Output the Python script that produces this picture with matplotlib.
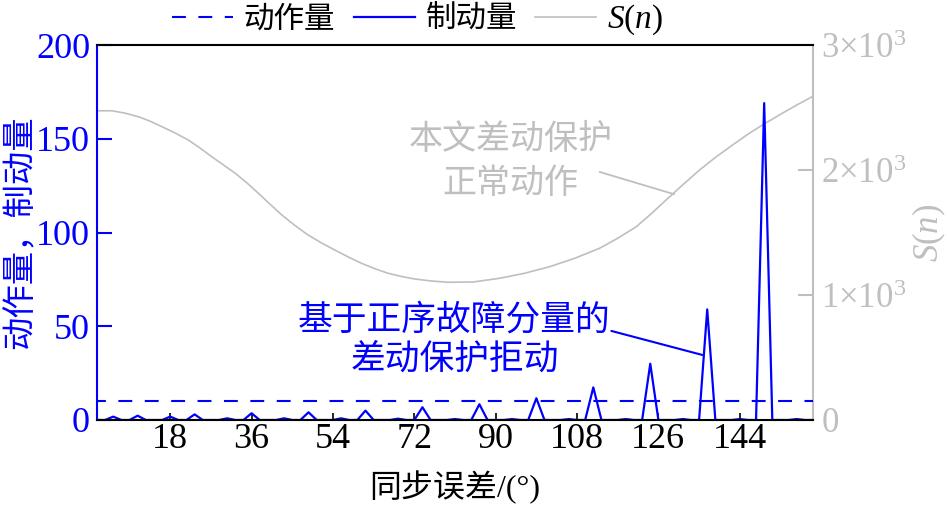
import numpy as np
import matplotlib
matplotlib.use("Agg")
import matplotlib.pyplot as plt

plt.rcParams['font.family'] = ['Liberation Serif', 'Noto Sans CJK SC', 'DejaVu Sans']
plt.rcParams['mathtext.fontset'] = 'custom'
plt.rcParams['mathtext.rm'] = 'Liberation Serif'
plt.rcParams['mathtext.it'] = 'Liberation Serif:italic'
plt.rcParams['lines.scale_dashes'] = False

# ---- data ----
step_deg = 1.8                      # sampling step of the synchronisation error
n_samples = 89
brake_idx = [3, 6, 10, 13, 17, 20, 24, 27, 31, 34, 38, 41, 45, 48, 52, 55, 59, 62, 66, 69, 73, 76, 80, 83, 87]
brake_val = [1.8, 2.3, 1.8, 3.0, 0.9, 3.6, 0.9, 4.1, 0.9, 5.0, 0.7, 6.8, 0.5, 8.4, 0.5, 11.6, 0.5, 17.4, 0.5, 30, 0.5, 59, 0.5, 169, 0.5]
operate_level = 10

s_deg = [1.8, 5.1, 8.0, 11.0, 13.6, 16.2, 19.1, 22.0, 24.6, 27.2, 29.8, 32.4, 35.0, 37.5, 40.1, 42.7,
         45.6, 48.5, 51.5, 54.4, 57.4, 60.3, 63.3, 66.2, 69.2, 72.1, 75.8, 79.5, 85.0, 90.9, 96.4,
         101.9, 107.5, 113.0, 117.0, 121.1, 124.4, 127.7, 131.4, 135.1, 138.8, 142.4, 145.7, 149.0,
         153.4, 156.8, 160.2]
s_val = [2474, 2474, 2455, 2426, 2390, 2346, 2296, 2240, 2176, 2106, 2040, 1974, 1896, 1814, 1726, 1640,
         1556, 1480, 1416, 1360, 1304, 1254, 1210, 1174, 1148, 1128, 1112, 1102, 1104, 1134, 1174,
         1226, 1294, 1374, 1454, 1546, 1650, 1760, 1882, 2000, 2106, 2200, 2284, 2360,
         2454, 2524, 2590]

x_ticks = [18, 36, 54, 72, 90, 108, 126, 144]
left_ticks = [0, 50, 100, 150, 200]
right_ticks = [0, 1000, 2000, 3000]
right_labels = ['0', r'$1{\times}10^3$', r'$2{\times}10^3$', r'$3{\times}10^3$']

# build series on sampling grid
x_grid = np.arange(1, n_samples + 1) * step_deg
brake = np.zeros(n_samples)
for i, v in zip(brake_idx, brake_val):
    brake[i - 1] = v

BLUE = '#0000ff'
GRAY = '#bfbfbf'
CJK = ['Noto Sans CJK SC', 'DejaVu Sans']
MIX = ['Liberation Serif', 'Noto Sans CJK SC', 'DejaVu Sans']

fig = plt.figure(figsize=(9.47, 5.07), dpi=100)
ax = fig.add_axes([0.1024, 0.1716, 0.7561, 0.7396])
ax2 = ax.twinx()
ax.set_zorder(ax2.get_zorder() + 1)
ax.patch.set_visible(False)

l1, = ax.plot([x_grid[0] - 1, x_grid[-1] + 1], [operate_level, operate_level], color=BLUE, lw=1.5,
              dashes=(10, 9), label='动作量')
l2, = ax.plot(x_grid, brake, color=BLUE, lw=1.6, label='制动量')
l3, = ax2.plot(s_deg, s_val, color=GRAY, lw=1.2, label=r'$S(n)$')

ax.set_xlim(1.8, 160.2)
ax.set_ylim(0, 200)
ax2.set_ylim(0, 3000)

ax.set_xticks(x_ticks)
ax.set_yticks(left_ticks)
ax2.set_yticks(right_ticks)
ax2.set_yticklabels(right_labels)

ax.tick_params(axis='x', direction='in', length=5, width=1.2, colors='black', labelsize=26, pad=2)
ax.tick_params(axis='y', direction='in', length=11, width=1.5, colors=BLUE, labelsize=26, pad=5)
ax2.tick_params(axis='y', direction='in', length=11, width=1.5, colors=GRAY, labelsize=25, pad=6)

for s in ['top', 'bottom']:
    ax.spines[s].set_color('black')
    ax.spines[s].set_linewidth(1.5)
ax.spines['left'].set_color(BLUE)
ax.spines['left'].set_linewidth(1.5)
ax.spines['right'].set_visible(False)
for s in ['left', 'top', 'bottom']:
    ax2.spines[s].set_visible(False)
ax2.spines['right'].set_color(GRAY)
ax2.spines['right'].set_linewidth(1.5)

ax.set_xlabel('同步误差/(°)', family=MIX, fontsize=23)
ax.xaxis.set_label_coords(0.5, -0.135)
ax.set_ylabel('动作量，制动量', family=CJK, fontsize=24, color=BLUE)
ax.yaxis.set_label_coords(-0.083, 0.5)
ax2.set_ylabel(r'$S(n)$', fontsize=25, color=GRAY)
ax2.yaxis.set_label_coords(1.136, 0.5)

# annotations
ax.text(93.3, 138, '本文差动保护\n正常动作', family=CJK, fontsize=24.5, color=GRAY,
        ha='center', va='center', multialignment='center', linespacing=1.35)
ax.annotate('', xy=(129.5, 120.4), xytext=(113.0, 132.3),
            arrowprops=dict(arrowstyle='-', color=GRAY, lw=1.3, shrinkA=0, shrinkB=0))
ax.text(80.9, 42.7, '基于正序故障分量的\n差动保护拒动', family=CJK, fontsize=25, color=BLUE,
        ha='center', va='center', multialignment='center', linespacing=1.15)
ax.annotate('', xy=(135.7, 34.7), xytext=(115.6, 47.5),
            arrowprops=dict(arrowstyle='-', color=BLUE, lw=1.5, shrinkA=0, shrinkB=0))

leg = fig.legend(handles=[l1, l2, l3], loc='center', bbox_to_anchor=(0.441, 0.963), ncol=3,
                 frameon=False, prop={'family': CJK, 'size': 22}, handlelength=2.0,
                 handletextpad=0.35, columnspacing=0.6, borderpad=0, borderaxespad=0)
for t in leg.get_texts():
    if 'S' in t.get_text():
        t.set_fontsize(24)

fig.savefig('out.png', dpi=100)
